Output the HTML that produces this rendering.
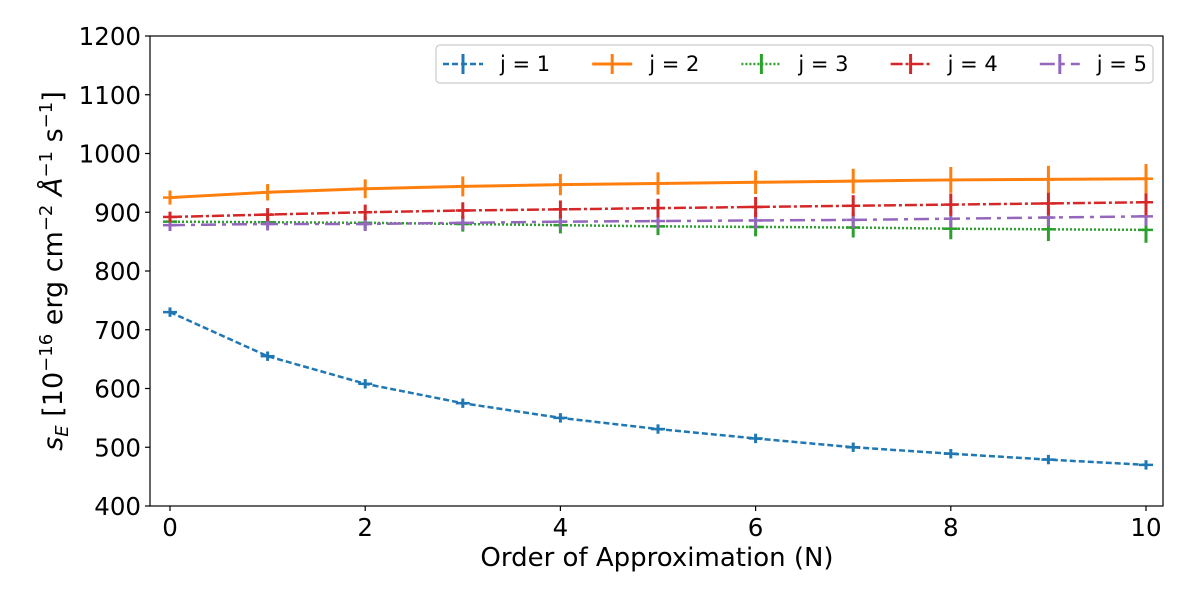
<!DOCTYPE html>
<html><head><meta charset="utf-8"><style>
body{margin:0;background:#fff}
svg text{font-family:"DejaVu Sans","Liberation Sans",sans-serif;fill:#000}
</style></head><body>
<svg id="chart" width="1200" height="605" viewBox="0 0 1200 605" xmlns="http://www.w3.org/2000/svg">
<g id="marks"></g>
<g id="axes"></g>
<g id="legend"></g>
</svg>
<script>
const categories = [0,1,2,3,4,5,6,7,8,9,10];
const seriesNames = ["j = 1","j = 2","j = 3","j = 4","j = 5"];
const s1 = [730,655,608,575,550,531,515,500,489,479,470];
const s2 = [925,934,940,944,947,949,951,953,955,956,957];
const s3 = [884,883,882,880,878,876,875,874,872,871,870];
const s4 = [892,896,900,903,905,907,909,911,913,915,917];
const s5 = [878,880,880,882,884,885,886,887,889,891,893];
const e1 = [8,8,8,8,8,8,8,8,8,8,8];
const e2 = [12,14,16,17,18,19,20,21,22,23,25];
const e3 = [8,10,12,13,14,15,16,17,18,20,22];
const e4 = [9,11,13,14,15,16,17,18,19,20,22];
const e5 = [10,11,12,12,13,13,14,14,15,15,16];
const yTicks = [400,500,600,700,800,900,1000,1100,1200];
const xTicks = [0,2,4,6,8,10];

const NS="http://www.w3.org/2000/svg";
const L=150,R=1163,T=36,B=506;
const xs=v=>170+(v-0)*97.6;
const ys=v=>B-(v-400)*(B-T)/800;
function mk(tag,attrs,parent){const e=document.createElementNS(NS,tag);for(const k in attrs)e.setAttribute(k,attrs[k]);parent.appendChild(e);return e;}
const marks=document.getElementById('marks'),axes=document.getElementById('axes'),leg=document.getElementById('legend');
const colors=["#1f77b4","#ff7f0e","#2ca02c","#d62728","#9467bd"];
const dashes=["6,3","","2,2","12,3,3,3","15,6,4,6"];
const widths=[2.5,3,2.5,2.5,2.5];
const data=[s1,s2,s3,s4,s5], errs=[e1,e2,e3,e4,e5];
const order=[2,4,3,1,0];
order.forEach(si=>{
  const g=mk('g',{},marks);
  
  
  const pts=categories.map((c,i)=>xs(c)+','+ys(data[si][i])).join(' ');
  const pl=mk('polyline',{points:pts,fill:'none',stroke:colors[si],'stroke-width':widths[si],'stroke-dasharray':dashes[si]},g);
  
  
  categories.forEach((c,i)=>{
    const x=xs(c),y=ys(data[si][i]),e=errs[si][i];
    const eb=mk('line',{x1:x,x2:x,y1:ys(data[si][i]+e),y2:ys(data[si][i]-e),stroke:colors[si],'stroke-width':3},g);
    
    
    const h=mk('line',{x1:x-7,x2:x+7,y1:y,y2:y,stroke:colors[si],'stroke-width':2.5},g);
    
    
  });
});
const fr=mk('rect',{x:L,y:T,width:R-L,height:B-T,fill:'none',stroke:'#000','stroke-width':1.2},axes);


yTicks.forEach(v=>{
  const y=ys(v);
  mk('line',{x1:L-5,x2:L,y1:y,y2:y,stroke:'#000','stroke-width':1.2},axes);
  const t=mk('text',{x:L-9,y:y+9,'text-anchor':'end','font-size':'24.5'},axes);
  t.textContent=v;
  
  
});
xTicks.forEach(v=>{
  const x=xs(v);
  mk('line',{x1:x,x2:x,y1:B,y2:B+5,stroke:'#000','stroke-width':1.2},axes);
  const t=mk('text',{x:x,y:B+30,'text-anchor':'middle','font-size':'24.5'},axes);
  t.textContent=v;
  
  
});
const xt=mk('text',{x:657,y:566,'text-anchor':'middle','font-size':'26'},axes);
xt.textContent='Order of Approximation (N)';


const yt=mk('text',{transform:'translate(62,271) rotate(-90)','text-anchor':'middle','font-size':'27'},axes);
yt.innerHTML='<tspan font-style="italic">s</tspan><tspan font-size="18" dy="6" font-style="italic">E</tspan><tspan dy="-6"> [10</tspan><tspan font-size="18" dy="-10">−16</tspan><tspan dy="10"> erg cm</tspan><tspan font-size="18" dy="-10">−2</tspan><tspan dy="10"> </tspan><tspan font-style="italic">Å</tspan><tspan font-size="18" dy="-10">−1</tspan><tspan dy="10"> s</tspan><tspan font-size="18" dy="-10">−1</tspan><tspan dy="10">]</tspan>';


const lb=mk('rect',{x:436,y:45,width:717,height:38,rx:4,fill:'#fff',stroke:'#ccc','stroke-width':1.2},leg);


seriesNames.forEach((n,i)=>{
  const g=mk('g',{},leg);
  
  
  const x0=443+i*149.2, y=64;
  mk('line',{x1:x0,x2:x0+40,y1:y,y2:y,stroke:colors[i],'stroke-width':widths[i],'stroke-dasharray':dashes[i]},g);
  mk('line',{x1:x0+20,x2:x0+20,y1:y-10,y2:y+10,stroke:colors[i],'stroke-width':3},g);
  const t=mk('text',{x:x0+57,y:y+7,'font-size':'21'},g);
  t.textContent=n;
});
</script>
</body></html>
